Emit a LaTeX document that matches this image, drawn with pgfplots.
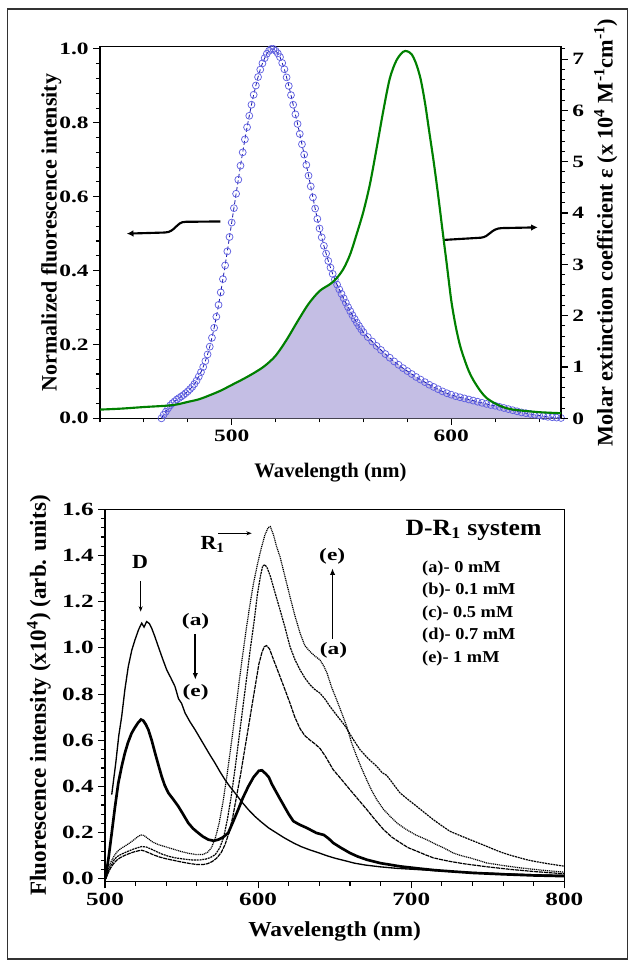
\documentclass[border=0pt]{standalone}
\usepackage{fontspec}
\setmainfont{Liberation Serif}
\newfontfamily\wide{Liberation Serif}[FakeStretch=1.35]
\newfontfamily\semi{Liberation Serif}[FakeStretch=1.1]
\usepackage{pgfplots}
\pgfplotsset{compat=1.18}
\usepackage{pgfplotstable}
\usetikzlibrary{arrows.meta}
\definecolor{fillv}{RGB}{196,190,228}
\definecolor{circ}{RGB}{95,95,225}
\definecolor{navyd}{RGB}{20,20,170}
\definecolor{grn}{RGB}{0,128,0}
\definecolor{framec}{RGB}{50,50,50}

% ---------- top panel data ----------
\pgfplotstableread{
x y
468 0.000
469 0.010
470 0.018
471 0.027
472 0.035
473 0.041
474 0.046
475 0.051
476 0.055
477 0.059
478 0.063
479 0.068
480 0.073
481 0.079
482 0.085
483 0.093
484 0.102
485 0.113
486 0.125
487 0.139
488 0.155
489 0.173
490 0.194
491 0.218
492 0.245
493 0.275
494 0.307
495 0.341
496 0.377
497 0.414
498 0.452
499 0.491
500 0.530
501 0.569
502 0.608
503 0.646
504 0.684
505 0.720
506 0.755
507 0.788
508 0.819
509 0.849
510 0.876
511 0.901
512 0.924
513 0.944
514 0.961
515 0.975
516 0.987
517 0.995
518 1.000
519 1.000
520 0.995
521 0.988
522 0.978
523 0.962
524 0.945
525 0.923
526 0.900
527 0.875
528 0.849
529 0.823
530 0.797
531 0.770
532 0.742
533 0.714
534 0.686
535 0.657
536 0.628
537 0.598
538 0.568
539 0.540
540 0.514
541 0.490
542 0.467
543 0.446
544 0.426
545 0.408
546 0.391
547 0.376
548 0.362
549 0.349
550 0.337
551 0.325
552 0.313
553 0.301
554 0.290
555 0.279
556 0.269
557 0.259
558 0.250
559 0.241
560 0.233
562 0.220
564 0.208
566 0.196
568 0.185
570 0.174
572 0.164
574 0.154
576 0.145
578 0.136
580 0.128
582 0.120
584 0.112
586 0.105
588 0.098
590 0.091
592 0.085
594 0.079
596 0.073
598 0.068
600 0.064
602 0.060
604 0.057
606 0.054
608 0.051
610 0.048
612 0.045
614 0.042
616 0.039
618 0.036
620 0.034
622 0.031
624 0.028
626 0.025
628 0.022
630 0.019
632 0.016
634 0.014
636 0.012
638 0.010
640 0.008
642 0.006
644 0.004
646 0.003
648 0.002
650 0.001
}\fluo

\pgfplotstableread{
x y
440 0.17
450 0.19
460 0.22
470 0.245
475 0.27
480 0.32
485 0.37
490 0.45
495 0.54
500 0.65
505 0.76
510 0.88
515 1.02
520 1.22
525 1.53
530 1.89
535 2.23
540 2.48
545 2.62
548 2.74
551 2.92
554 3.20
557 3.60
560 4.03
563 4.57
566 5.26
569 5.98
572 6.62
575 6.97
578 7.14
580 7.15
582 7.09
584 6.91
586 6.62
588 6.16
590 5.58
592 5.00
594 4.36
596 3.67
598 2.99
600 2.30
602 1.80
604 1.42
606 1.15
608 0.92
610 0.75
613 0.55
616 0.40
620 0.29
625 0.20
630 0.16
640 0.12
650 0.10
}\absorb

% overlap region (lower of the two curves, in left-axis units)
\pgfplotstableread{
x y
468 0.000
469 0.010
470 0.018
471 0.027
472 0.035
475 0.0375
480 0.0444
485 0.0514
490 0.0625
495 0.0750
500 0.0903
505 0.1056
510 0.1222
515 0.1417
520 0.1694
525 0.2125
530 0.2625
535 0.3097
540 0.3444
545 0.3639
547 0.372
548 0.362
549 0.349
550 0.337
552 0.313
554 0.290
556 0.269
558 0.250
560 0.233
564 0.208
568 0.185
572 0.164
576 0.145
580 0.128
584 0.112
588 0.098
592 0.085
596 0.073
600 0.064
604 0.057
608 0.051
612 0.045
616 0.039
620 0.034
624 0.028
628 0.022
632 0.016
636 0.012
640 0.008
644 0.004
648 0.002
650 0.001
}\overlap

% ---------- bottom panel data ----------
\pgfplotstableread{
x y
504.4 0.365
507 0.50
509 0.62
510.9 0.703
513 0.82
515.2 0.919
517.5 0.99
519.6 1.035
522 1.08
524 1.107
525.5 1.09
527.2 1.114
529 1.105
530.5 1.085
532.5 1.05
534.8 1.006
537.5 0.955
540.3 0.905
543 0.87
545.7 0.833
548 0.78
550 0.76
552.3 0.718
555.5 0.68
558.8 0.646
562 0.61
565.3 0.573
568.5 0.537
571.8 0.502
575 0.465
578.4 0.429
581.5 0.40
584.9 0.372
589 0.336
593.6 0.300
598 0.27
602.3 0.245
607 0.22
612 0.199
617 0.178
623 0.156
628 0.14
634 0.125
640 0.112
645 0.100
650 0.09
656 0.08
663 0.068
670 0.06
680 0.052
690 0.046
700 0.042
710 0.038
720 0.034
735 0.029
750 0.025
765 0.021
780 0.018
800 0.015
}\ca

\pgfplotstableread{
x y
500 0.00
501 0.03
502.5 0.10
504.4 0.199
506.5 0.31
508.7 0.415
511 0.49
513 0.545
515 0.59
517.4 0.631
519.5 0.655
521.5 0.675
523.5 0.69
525 0.685
526.5 0.67
528.3 0.646
530.5 0.60
532.7 0.545
535 0.49
537 0.444
539 0.405
541.4 0.372
544.5 0.345
547.9 0.314
551 0.28
554.4 0.242
557.5 0.218
560.9 0.199
564 0.183
567.5 0.170
571 0.165
574 0.170
577 0.18
580.5 0.199
583.5 0.245
587 0.30
590 0.35
593.6 0.40
597 0.44
600.5 0.468
602.5 0.47
605 0.455
607 0.44
609 0.41
611 0.386
614 0.35
617 0.315
620 0.28
623 0.25
627 0.235
632 0.22
638 0.199
643 0.19
646 0.175
649 0.156
654 0.135
660 0.112
665 0.097
671 0.083
680 0.068
693 0.054
705 0.045
715 0.038
725 0.033
740 0.026
760 0.02
780 0.015
800 0.012
}\cb

\pgfplotstableread{
x y
500.5 0.00
502 0.025
503.5 0.045
505.5 0.065
507.5 0.08
510 0.092
513 0.102
516 0.110
519 0.117
522 0.122
524 0.124
526 0.12
529 0.112
532 0.103
536 0.094
540 0.087
545 0.08
550 0.073
555 0.067
560 0.062
564 0.062
567 0.066
570 0.075
573 0.09
576 0.115
578.5 0.15
581 0.2
583.5 0.27
586 0.36
588.5 0.45
591 0.55
593.5 0.65
596 0.75
598.5 0.85
600.5 0.93
602.5 0.98
604 1.005
605.5 1.01
607.5 0.995
610 0.95
614.3 0.876
617.5 0.82
620.8 0.761
624 0.70
627.4 0.65
630.5 0.62
634 0.60
637 0.585
640.4 0.565
644 0.53
649 0.473
654.5 0.43
660 0.386
665.5 0.343
671 0.30
676.5 0.255
682 0.213
687.5 0.18
693 0.156
698 0.135
704 0.119
709 0.105
714.5 0.091
720 0.083
725 0.076
735 0.065
750 0.052
765 0.041
780 0.032
800 0.022
}\cc

\pgfplotstableread{
x y
500.5 0.00
502 0.03
504 0.06
506 0.083
508 0.097
511 0.108
515.2 0.12
519 0.13
523.9 0.14
527 0.138
530.5 0.128
534 0.117
537 0.108
541.4 0.098
546 0.091
552.3 0.085
557 0.082
562 0.082
566 0.086
569 0.093
572 0.105
575 0.135
577.5 0.18
580 0.26
582.5 0.36
585 0.48
587.5 0.61
590 0.74
592.5 0.87
595 1.0
597.5 1.12
599.5 1.23
601.5 1.31
603 1.355
604.5 1.36
606 1.345
608 1.31
611 1.24
614.3 1.165
617.5 1.09
620.8 1.006
624 0.95
627.4 0.905
630.5 0.87
633.9 0.84
637 0.82
640.4 0.804
643.5 0.78
647 0.746
650 0.72
653.5 0.69
656.5 0.665
659 0.638
662.5 0.60
666.6 0.559
672 0.52
677.5 0.487
681 0.46
684 0.448
686.2 0.429
689.5 0.40
692.7 0.372
698 0.343
703.6 0.314
709 0.285
714.5 0.256
720 0.23
725.3 0.206
731 0.19
738.4 0.170
744 0.155
749.3 0.141
755 0.125
760.2 0.112
766 0.10
771.1 0.091
776 0.082
782 0.074
790 0.065
800 0.055
}\cd

\pgfplotstableread{
x y
501 0.02
502.5 0.05
504 0.075
506 0.10
508 0.118
510 0.13
513 0.142
516 0.155
519 0.17
521.5 0.183
523.5 0.19
525.5 0.188
528 0.175
531 0.16
535 0.148
540 0.138
545 0.128
550 0.118
555 0.11
560 0.105
564 0.106
567 0.115
569.5 0.135
572 0.175
574.5 0.24
577 0.33
579.5 0.44
582 0.56
584.5 0.69
587 0.82
589.5 0.95
592 1.07
594.5 1.18
597 1.28
599.5 1.36
602 1.43
604.5 1.49
606.5 1.52
608 1.525
610 1.49
612 1.44
614.3 1.395
617.5 1.31
620.8 1.222
624 1.14
627.4 1.064
630.5 1.01
633.9 0.984
637 0.965
640.4 0.948
643 0.92
645 0.891
648 0.83
651.3 0.775
654.5 0.72
657.9 0.66
661 0.59
664.4 0.530
667.5 0.48
670.9 0.429
674 0.385
677.5 0.343
682 0.30
686.2 0.271
691 0.24
697 0.213
703 0.19
710 0.170
716.6 0.148
721 0.135
727.5 0.112
733 0.10
738.4 0.091
744 0.08
749.3 0.069
760 0.058
771.1 0.048
785 0.038
800 0.029
}\ce

\newcommand\tickfontA{\fontsize{13}{15}\selectfont\wide\bfseries}
\newcommand\tickfontB{\fontsize{14}{16}\selectfont\wide\bfseries}

\begin{document}
\begin{tikzpicture}
\useasboundingbox (0,0) rectangle (474pt,720.75pt);
\draw[framec, line width=1.1pt] (5.6pt,1.5pt) rectangle (470.6pt,714pt);

% ================= TOP PANEL =================
\begin{axis}[
  at={(75pt,407pt)}, anchor=south west, scale only axis,
  width=345.75pt, height=278.7pt,
  xmin=440, xmax=650, ymin=0, ymax=1.006,
  xtick={500,600}, minor xtick={440,460,480,520,540,560,580,620,640},
  ytick={0,0.2,0.4,0.6,0.8,1.0}, minor y tick num=4,
  xtick pos=bottom, ytick pos=left, tick align=outside,
  major tick length=5pt, minor tick length=3pt,
  every tick/.style={black, line width=0.8pt},
  axis line style={line width=1pt},
  /pgf/number format/assume math mode=true,
  tick label style={font=\tickfontA},
  yticklabel style={/pgf/number format/.cd, fixed, fixed zerofill, precision=1},
  xticklabel style={/pgf/number format/.cd, fixed, 1000 sep={}},
  xlabel={Wavelength (nm)},
  ylabel={Normalized fluorescence intensity},
  every axis x label/.style={at={(axis description cs:0.5,-0.145)}, anchor=center, font=\fontsize{15.5}{17}\selectfont\bfseries},
  every axis y label/.style={at={(axis description cs:-0.106,0.5)}, rotate=90, anchor=center, font=\fontsize{16.5}{18}\selectfont\bfseries},
  clip=false,
]
\addplot[fill=fillv, draw=none] table {\overlap} \closedcycle;
\addplot[navyd, densely dashed, line width=0.6pt, mark=o, mark size=2.6pt,
  mark options={solid, draw=circ, line width=0.55pt}] table {\fluo};
\draw[line width=1.6pt, -{Latex[length=5pt,width=5pt]}]
  (axis cs:494.8,0.533) -- (axis cs:479,0.532)
  .. controls (axis cs:474.5,0.532) and (axis cs:474.5,0.504) .. (axis cs:469.5,0.503)
  -- (axis cs:452.2,0.500);
\draw[line width=1.6pt, -{Latex[length=5pt,width=5pt]}]
  (axis cs:596.8,0.483) -- (axis cs:613.5,0.489)
  .. controls (axis cs:617.5,0.491) and (axis cs:618,0.514) .. (axis cs:623,0.515)
  -- (axis cs:639.4,0.517);
\end{axis}

\begin{axis}[
  at={(75pt,407pt)}, anchor=south west, scale only axis,
  width=345.75pt, height=278.7pt,
  xmin=440, xmax=650, ymin=0, ymax=7.24,
  axis x line=none, axis y line*=right,
  ytick={0,1,2,3,4,5,6,7},
  minor ytick={0.2,0.4,0.6,0.8,1.2,1.4,1.6,1.8,2.2,2.4,2.6,2.8,3.2,3.4,3.6,3.8,4.2,4.4,4.6,4.8,5.2,5.4,5.6,5.8,6.2,6.4,6.6,6.8,7.2},
  tick align=outside,
  major tick length=5pt, minor tick length=3pt,
  every tick/.style={black, line width=0.8pt},
  axis line style={line width=1pt},
  /pgf/number format/assume math mode=true,
  tick label style={font=\tickfontA},
  ylabel={Molar extinction coefficient ε (x 10\textsuperscript{4} M\textsuperscript{-1}cm\textsuperscript{-1})},
  every axis y label/.style={at={(axis description cs:1.097,0.5)}, rotate=90, anchor=center, font=\fontsize{16.7}{19}\selectfont\bfseries},
]
\addplot[grn, line width=1.6pt, smooth] table {\absorb};
\end{axis}

% ================= BOTTOM PANEL =================
\begin{axis}[
  at={(78.75pt,59.5pt)}, anchor=south west, scale only axis,
  width=344.5pt, height=279.3pt,
  xmin=500, xmax=800, ymin=-0.012, ymax=1.6,
  xtick={500,600,700,800}, minor xtick={520,540,560,580,620,640,660,680,720,740,760,780},
  ytick={0,0.2,0.4,0.6,0.8,1.0,1.2,1.4,1.6}, minor y tick num=4,
  xtick pos=bottom, ytick pos=left, tick align=outside,
  major tick length=5pt, minor tick length=3pt,
  every tick/.style={black, line width=0.8pt},
  axis line style={line width=1pt},
  /pgf/number format/assume math mode=true,
  tick label style={font=\tickfontB},
  yticklabel style={/pgf/number format/.cd, fixed, fixed zerofill, precision=1},
  xticklabel style={/pgf/number format/.cd, fixed, 1000 sep={}},
  xlabel={Wavelength (nm)},
  ylabel={Fluorescence intensity (x10\textsuperscript{4}) (arb. units)},
  every axis x label/.style={at={(axis description cs:0.5,-0.134)}, anchor=center, font=\fontsize{16}{18}\selectfont\semi\bfseries},
  every axis y label/.style={at={(axis description cs:-0.144,0.5)}, rotate=90, anchor=center, font=\fontsize{17.3}{19}\selectfont\bfseries},
  clip=true,
]
\addplot[black, line width=1pt] table {\ca};
\addplot[black, line width=2pt] table {\cb};
\addplot[black, line width=0.9pt, dash pattern=on 3pt off 0.6pt] table {\cc};
\addplot[black, line width=0.9pt, dash pattern=on 1.5pt off 0.6pt] table {\cd};
\addplot[black, line width=0.9pt, dash pattern=on 0.8pt off 0.6pt] table {\ce};

\node[font=\fontsize{15}{17}\selectfont\semi\bfseries] at (axis cs:522.9,1.373) {D};
\draw[line width=0.6pt, -{Stealth[length=4pt,width=3pt]}] (axis cs:523.3,1.29) -- (axis cs:523.3,1.157);
\node[anchor=base west, font=\fontsize{15}{17}\selectfont\semi\bfseries, inner sep=0pt] at (axis cs:562.2,1.424) {R\textsubscript{1}};
\draw[line width=0.6pt, -{Stealth[length=4pt,width=3pt]}] (axis cs:574,1.496) -- (axis cs:595.8,1.496);
\node[font=\fontsize{13}{16}\selectfont\wide\bfseries] at (axis cs:559.2,1.117) {(a)};
\node[font=\fontsize{13}{16}\selectfont\wide\bfseries] at (axis cs:559.2,0.807) {(e)};
\draw[line width=1.4pt, -{Latex[length=5pt,width=4pt]}] (axis cs:559,1.06) -- (axis cs:559,0.862);
\node[font=\fontsize{13}{16}\selectfont\wide\bfseries] at (axis cs:648.4,1.398) {(e)};
\node[font=\fontsize{13}{16}\selectfont\wide\bfseries] at (axis cs:649.2,0.99) {(a)};
\draw[line width=1.4pt, -{Latex[length=5pt,width=4pt]}] (axis cs:648.6,1.04) -- (axis cs:648.6,1.345);
\node[font=\fontsize{17.5}{19}\selectfont\semi\bfseries] at (axis cs:740.7,1.51) {D-R\textsubscript{1} system};
\node[anchor=west, font=\fontsize{12.5}{13}\selectfont\semi\bfseries, inner sep=0pt] at (axis cs:707,1.342) {(a)- 0 mM};
\node[anchor=west, font=\fontsize{12.5}{13}\selectfont\semi\bfseries, inner sep=0pt] at (axis cs:707,1.248) {(b)- 0.1 mM};
\node[anchor=west, font=\fontsize{12.5}{13}\selectfont\semi\bfseries, inner sep=0pt] at (axis cs:707,1.150) {(c)- 0.5 mM};
\node[anchor=west, font=\fontsize{12.5}{13}\selectfont\semi\bfseries, inner sep=0pt] at (axis cs:707,1.052) {(d)- 0.7 mM};
\node[anchor=west, font=\fontsize{12.5}{13}\selectfont\semi\bfseries, inner sep=0pt] at (axis cs:707,0.956) {(e)- 1 mM};
\end{axis}
\end{tikzpicture}
\end{document}
